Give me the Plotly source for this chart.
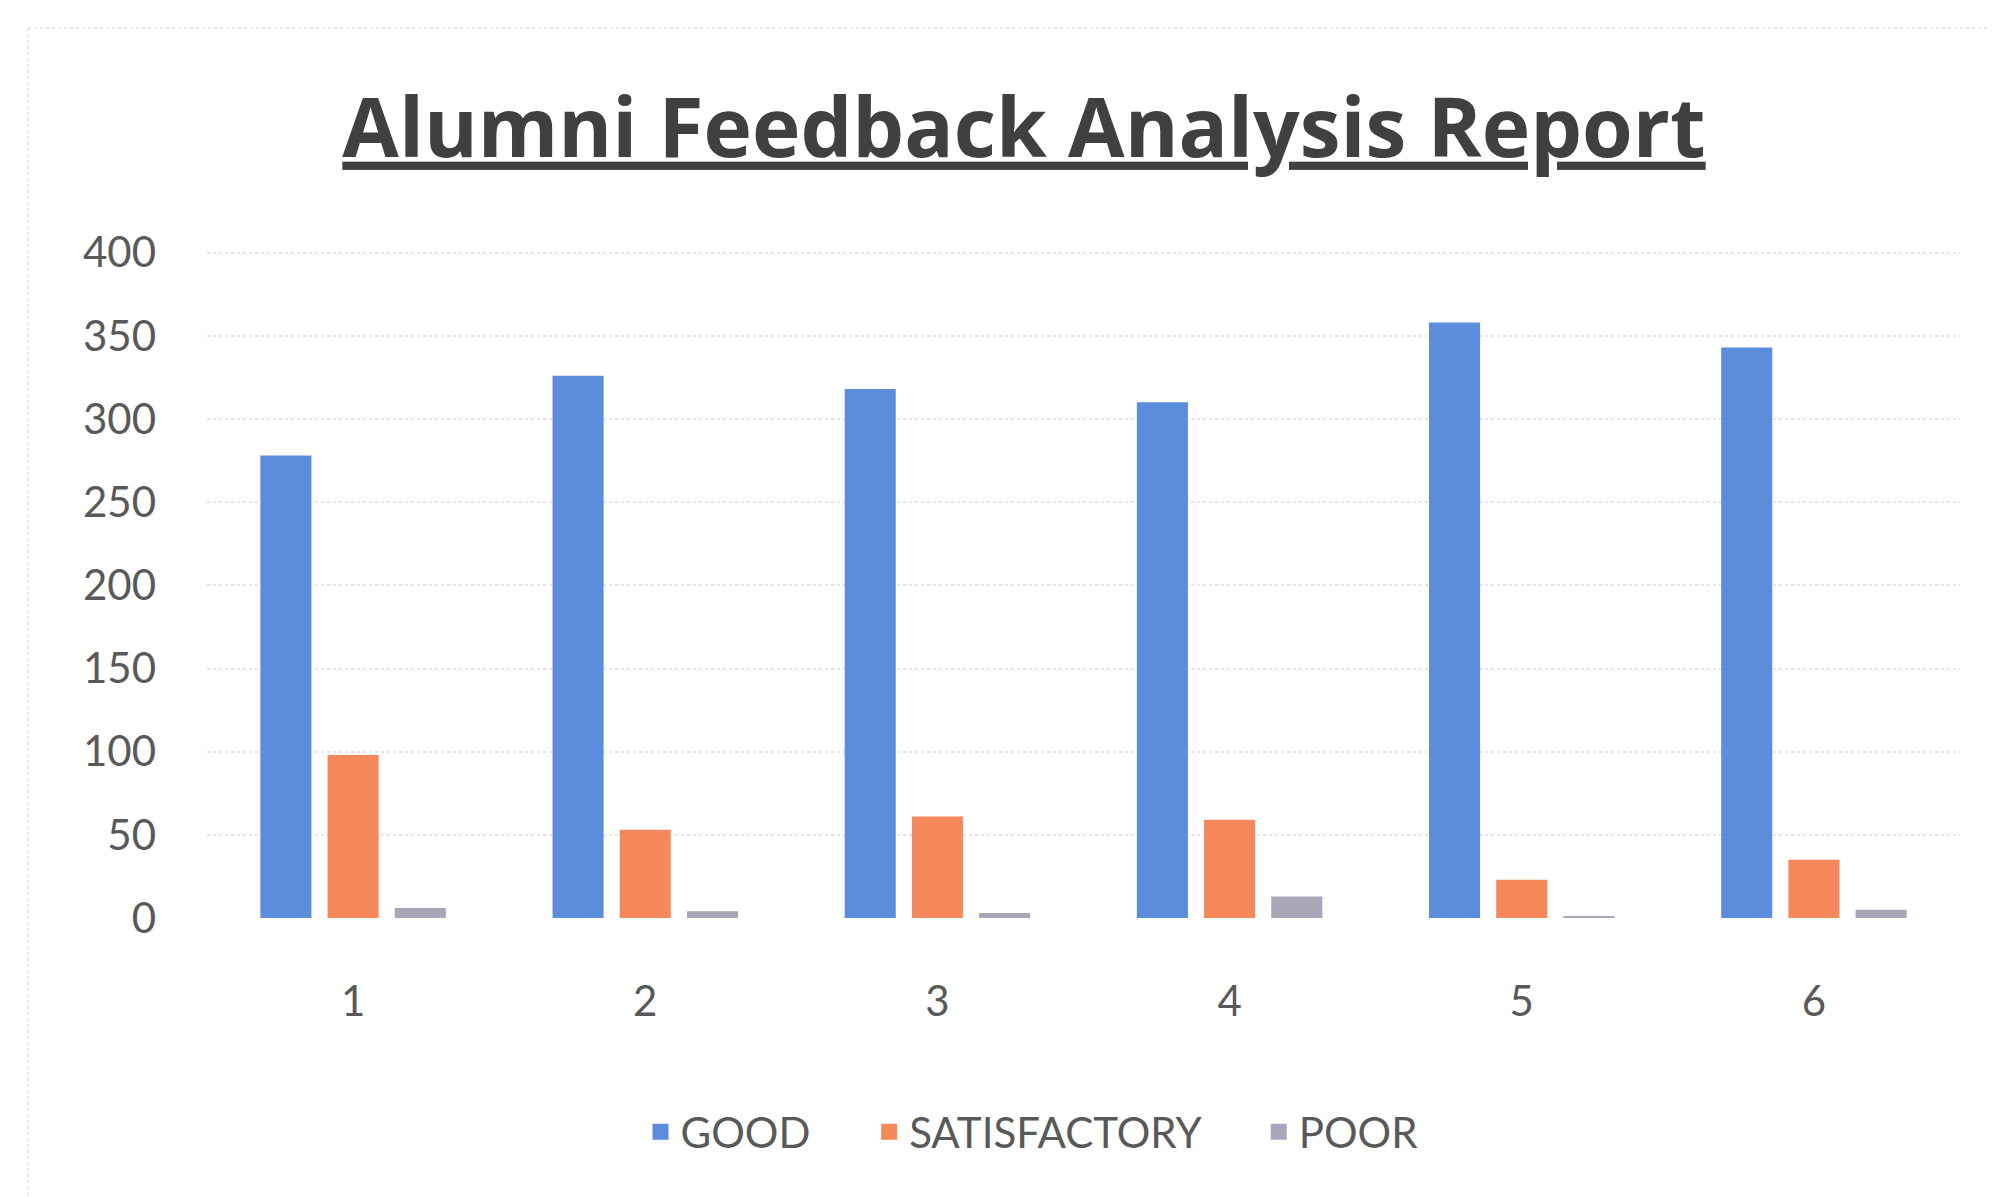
import plotly.graph_objects as go

categories = ["1", "2", "3", "4", "5", "6"]
good = [278, 326, 318, 310, 358, 343]
satisfactory = [98, 53, 61, 59, 23, 35]
poor = [6, 4, 3, 13, 1, 5]
y_ticks = [0, 50, 100, 150, 200, 250, 300, 350, 400]
series_names = ["GOOD", "SATISFACTORY", "POOR"]
series_colors = ["#5b8ddc", "#f5895b", "#aaa6ba"]

W, H = 1996, 1197
FONT = "Lato"
L, R, T, B = 199, 44, 243, 287
PW, PH = W - L - R, H - T - B
PAD = "\u00a0" * 5

fig = go.Figure()
for name, vals, col in zip(series_names, [good, satisfactory, poor], series_colors):
    fig.add_trace(go.Bar(name=name, x=categories, y=vals, marker_color=col,
                         marker_line_width=0, showlegend=False, legendgroup=name))
# legend entries with larger square swatches
for i, (name, col) in enumerate(zip(series_names, series_colors)):
    label = name + (PAD if i < len(series_names) - 1 else "")
    fig.add_trace(go.Scatter(name=label, x=[None], y=[None], mode="markers",
                             marker=dict(symbol="square", size=20, color=col),
                             legendgroup=name, showlegend=True))

fig.update_layout(
    width=W, height=H,
    paper_bgcolor="white", plot_bgcolor="white",
    margin=dict(l=L, r=R, t=T, b=B, autoexpand=False),
    barmode="group", bargap=0.31, bargroupgap=0.24,
    font=dict(family=FONT, color="#595959", size=42),
    title=dict(
        text="<b><u>Alumni Feedback Analysis Report</u></b>",
        x=1016 / W, xref="container", xanchor="center",
        y=1 - 120 / H, yref="container", yanchor="middle",
        font=dict(family="Open Sans", size=82, color="#404040"),
    ),
    showlegend=True,
    legend=dict(
        orientation="h", x=(1024 - L) / PW, xanchor="center",
        y=-(1124 - (T + PH)) / PH, yanchor="middle",
        font=dict(family=FONT, size=42, color="#595959"),
        itemwidth=30, traceorder="normal",
    ),
    xaxis=dict(
        showgrid=False, showline=False, zeroline=False,
        ticks="", ticklabelstandoff=55,
        tickfont=dict(family=FONT, size=42, color="#595959"),
    ),
    yaxis=dict(
        range=[0, 401], tickvals=y_ticks, showline=False, zeroline=False,
        showgrid=True, gridcolor="#e9e2f0", gridwidth=1.5, griddash="dot",
        ticks="", ticklabelstandoff=50,
        tickfont=dict(family=FONT, size=42, color="#595959"),
    ),
    shapes=[
        dict(type="line", xref="paper", yref="paper", x0=-(L - 20) / PW, x1=-(L - 20) / PW,
             y0=1 + (T - 20) / PH, y1=-B / PH,
             line=dict(color="#ebe4f0", width=2, dash="dot")),
        dict(type="line", xref="paper", yref="paper", x0=-(L - 20) / PW, x1=1 + R / PW,
             y0=1 + (T - 20) / PH, y1=1 + (T - 20) / PH,
             line=dict(color="#ebe4f0", width=2, dash="dot")),
    ],
)

fig.write_html("out.html")
